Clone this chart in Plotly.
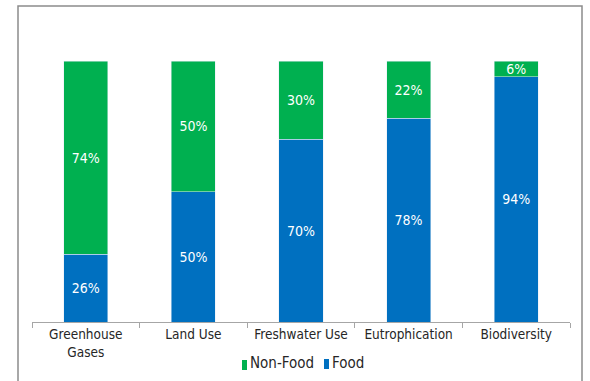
import plotly.graph_objects as go

categories = ["Greenhouse<br>Gases", "Land Use", "Freshwater Use", "Eutrophication", "Biodiversity"]
food = [26, 50, 70, 78, 94]
non_food = [74, 50, 30, 22, 6]

GREEN = "#00B050"
BLUE = "#0070C0"
FONT = "DejaVu Sans Condensed, Liberation Sans Narrow, Liberation Sans, sans-serif"
TEXT = "#262626"

fig = go.Figure()
fig.add_trace(go.Bar(
    x=categories, y=food, name="Food", marker_color=BLUE,
    text=[f"{v}%" for v in food], textposition="inside",
    insidetextanchor="middle", textfont=dict(color="white", size=14, family=FONT),
))
fig.add_trace(go.Bar(
    x=categories, y=non_food, name="Non-Food", marker_color=GREEN,
    text=[f"{v}%" for v in non_food], textposition="inside",
    insidetextanchor="middle", textfont=dict(color="white", size=14, family=FONT),
))

L, R, T, B = 32, 20, 61, 59
W, H = 590, 381
pw, ph = W - L - R, H - T - B

def px(x):
    return (x - L) / pw

def py(y):
    return (H - B - y) / ph

# compact legend: tall swatch followed directly by the series name
legend_items = [("Non-Food", GREEN, 242, 360), ("Food", BLUE, 324, 359)]
shapes = [dict(type="rect", xref="paper", yref="paper",
               x0=px(18), x1=px(582), y0=py(390), y1=py(6),
               line=dict(color="#8C8C8C", width=1.5), fillcolor="rgba(0,0,0,0)",
               layer="below")]
annotations = []
for name, color, sx, sy in legend_items:
    shapes.append(dict(type="rect", xref="paper", yref="paper",
                       x0=px(sx), x1=px(sx + 5), y0=py(sy + 10), y1=py(sy),
                       line=dict(width=0), fillcolor=color))
    annotations.append(dict(text=name, xref="paper", yref="paper",
                            x=px(sx + 6), y=py(363), xanchor="left", yanchor="middle",
                            showarrow=False, font=dict(size=15, color=TEXT, family=FONT)))

fig.update_layout(
    width=W, height=H,
    margin=dict(l=L, r=R, t=T, b=B, autoexpand=False),
    barmode="stack", bargap=0.59,
    paper_bgcolor="white", plot_bgcolor="white",
    font=dict(family=FONT, size=14, color=TEXT),
    uniformtext=dict(minsize=14, mode="show"),
    showlegend=False,
    xaxis=dict(showline=True, linecolor="#A6A6A6", linewidth=1, automargin=False,
               ticks="outside", tickson="boundaries", ticklen=5, tickcolor="#A6A6A6",
               showgrid=False, tickfont=dict(size=13.5, color=TEXT)),
    yaxis=dict(visible=False, range=[0, 100], showgrid=False),
    shapes=shapes,
    annotations=annotations,
)

fig.write_html("out.html")
